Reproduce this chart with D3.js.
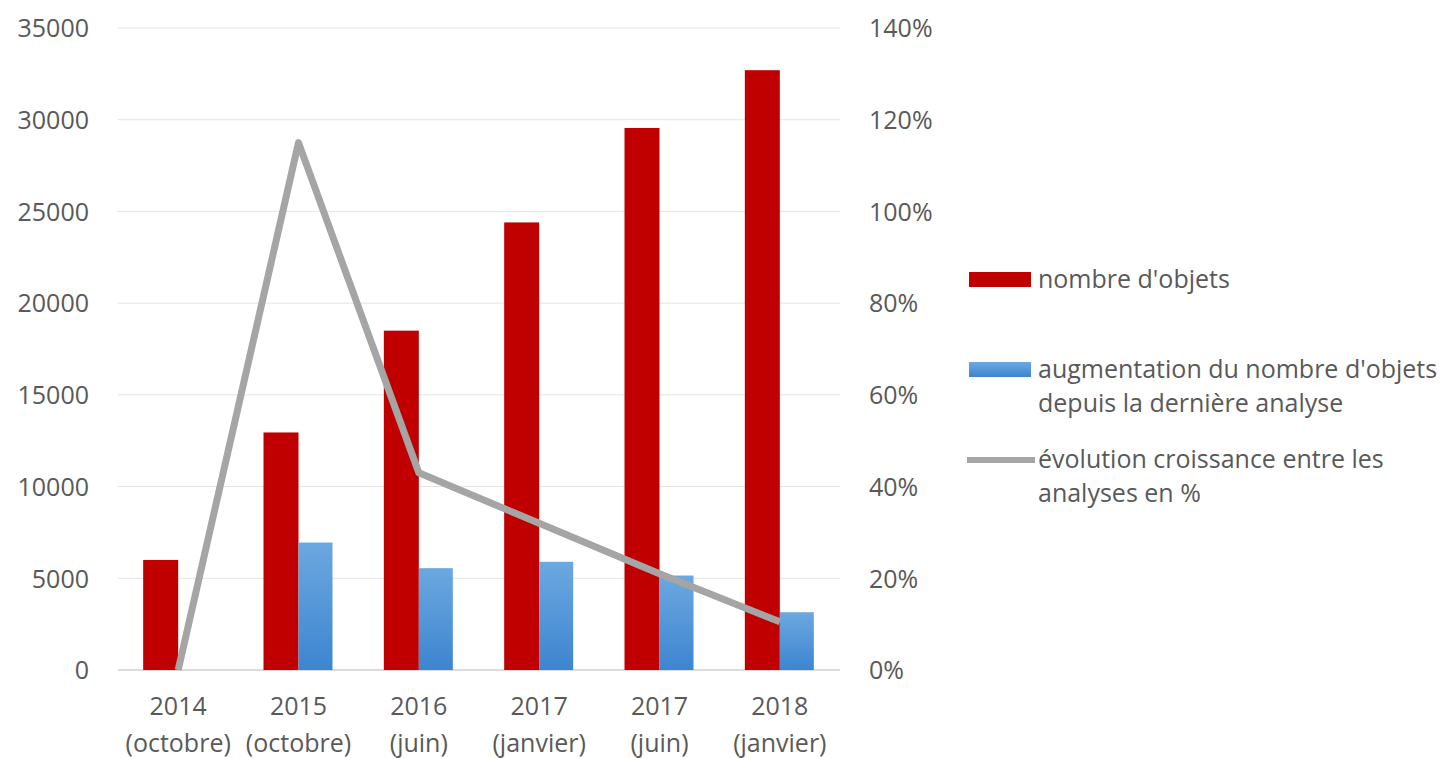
<!DOCTYPE html>
<html lang="fr">
<head>
<meta charset="UTF-8">
<title>Nombre d'objets</title>
<script src="https://cdn.jsdelivr.net/npm/d3@7"></script>
<style>
  body { margin: 0; background: #fff; }
  text { font-family: "Open Sans", "Noto Sans", sans-serif; fill: #595959; }
</style>
</head>
<body>
<svg id="chart" width="1454" height="758"></svg>
<script>
    const years = ["2014", "2015", "2016", "2017", "2017", "2018"]
    const months = ["(octobre)", "(octobre)", "(juin)", "(janvier)", "(juin)", "(janvier)"]
    const nombre = [6000, 12950, 18500, 24400, 29550, 32700]
    const augmentation = [0, 6950, 5550, 5900, 5150, 3150]
    const evolution = [0, 115, 43, 32, 21, 10.5]
    const leftTicks = [0, 5000, 10000, 15000, 20000, 25000, 30000, 35000]
    const rightTicks = [0, 20, 40, 60, 80, 100, 120, 140]

    const svg = d3.select("#chart")
    const plotLeft = 118, plotRight = 840, plotTop = 28, plotBottom = 670
    const fs = 25

    const x = d3.scaleBand().domain(d3.range(years.length)).range([plotLeft, plotRight])
    const y = d3.scaleLinear().domain([0, 35000]).range([plotBottom, plotTop])
    const y2 = d3.scaleLinear().domain([0, 140]).range([plotBottom, plotTop])
    const barW = 35

    const defs = svg.append("defs")
    const grad = defs.append("linearGradient").attr("id", "blueGrad")
        .attr("x1", 0).attr("y1", 0).attr("x2", 0).attr("y2", 1)
    grad.append("stop").attr("offset", "0%").attr("stop-color", "#6ca8e0")
    grad.append("stop").attr("offset", "100%").attr("stop-color", "#3d85d0")

    // grid
    svg.append("g").selectAll("line")
        .data(leftTicks)
        .join("line")
        .attr("x1", plotLeft).attr("x2", plotRight)
        .attr("y1", d => y(d)).attr("y2", d => y(d))
        .attr("stroke", d => d === 0 ? "#d0d0d0" : "#e4e4e4")
        .attr("stroke-width", d => d === 0 ? 1.5 : 1)

    // left axis
    const yAxis = d3.axisLeft(y).tickValues(leftTicks).tickSize(0).tickPadding(0).tickFormat(d => String(d))
    const gl = svg.append("g").attr("transform", `translate(89,0)`).call(yAxis)
    gl.select(".domain").remove()
    gl.selectAll("text").attr("font-size", fs).attr("font-family", null).attr("dy", "0.35em")

    // right axis
    const yAxis2 = d3.axisRight(y2).tickValues(rightTicks).tickSize(0).tickPadding(0).tickFormat(d => d + "%")
    const gr = svg.append("g").attr("transform", `translate(869,0)`).call(yAxis2)
    gr.select(".domain").remove()
    gr.selectAll("text").attr("font-size", fs).attr("font-family", null).attr("dy", "0.35em")

    // bars
    const cx = i => x(i) + x.bandwidth() / 2
    svg.append("g").selectAll("rect")
        .data(nombre)
        .join("rect")
        .attr("x", (d, i) => cx(i) - barW)
        .attr("y", d => y(d))
        .attr("width", barW)
        .attr("height", d => plotBottom - y(d))
        .attr("fill", "#c00000")

    svg.append("g").selectAll("rect")
        .data(augmentation)
        .join("rect")
        .attr("x", (d, i) => cx(i))
        .attr("y", d => y(d))
        .attr("width", barW - 1)
        .attr("height", d => plotBottom - y(d))
        .attr("fill", "url(#blueGrad)")

    // line
    const line = d3.line().x((d, i) => cx(i)).y(d => y2(d))
    svg.append("path")
        .attr("d", line(evolution))
        .attr("fill", "none")
        .attr("stroke", "#a5a5a5")
        .attr("stroke-width", 7)
        .attr("stroke-linejoin", "round")

    // x labels
    const gx = svg.append("g")
    gx.selectAll("text.yr").data(years).join("text").attr("class", "yr")
        .attr("x", (d, i) => cx(i)).attr("y", 715)
        .attr("text-anchor", "middle").attr("font-size", fs).text(d => d)
    gx.selectAll("text.mo").data(months).join("text").attr("class", "mo")
        .attr("x", (d, i) => cx(i)).attr("y", 752)
        .attr("text-anchor", "middle").attr("font-size", fs).text(d => d)

    // legend
    const lg = svg.append("g")
    lg.append("rect").attr("x", 969).attr("y", 272).attr("width", 62).attr("height", 15).attr("fill", "#c00000")
    lg.append("text").attr("x", 1038).attr("y", 288).attr("font-size", fs).text("nombre d'objets")

    lg.append("rect").attr("x", 969).attr("y", 362).attr("width", 62).attr("height", 15).attr("fill", "url(#blueGrad)")
    lg.append("text").attr("x", 1038).attr("y", 378).attr("font-size", fs).text("augmentation du nombre d'objets")
    lg.append("text").attr("x", 1038).attr("y", 412).attr("font-size", fs).text("depuis la dernière analyse")

    lg.append("line").attr("x1", 967).attr("x2", 1035).attr("y1", 460).attr("y2", 460)
        .attr("stroke", "#a5a5a5").attr("stroke-width", 6)
    lg.append("text").attr("x", 1038).attr("y", 468).attr("font-size", fs).text("évolution croissance entre les")
    lg.append("text").attr("x", 1038).attr("y", 502).attr("font-size", fs).text("analyses en %")
</script>
</body>
</html>
